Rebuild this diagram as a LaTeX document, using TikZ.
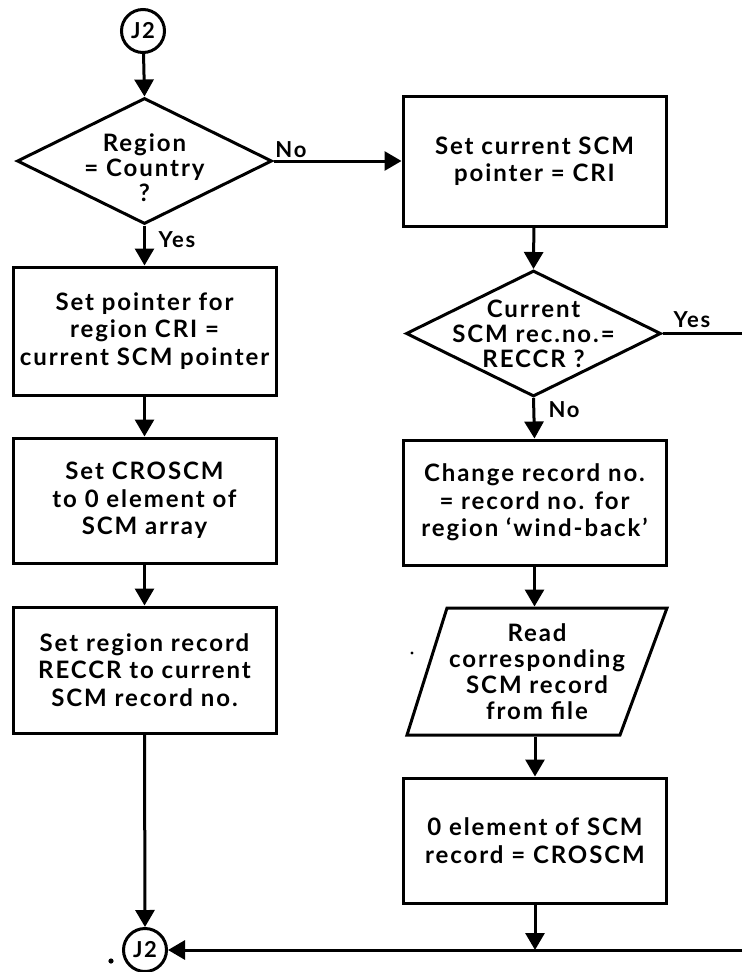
\documentclass[tikz,border=0pt]{standalone}
\usepackage{fontspec}
\setmainfont{Lato}
\newfontfamily\plotfont{Lato}[LetterSpace=8]
\usetikzlibrary{arrows.meta,shapes.geometric}
\begin{document}
\begin{tikzpicture}[x=1pt,y=-1pt,
  line width=3pt,
  every node/.style={font=\plotfont\fontsize{24}{27.5}\selectfont\bfseries},
  box/.style={draw, rectangle, minimum width=263pt, align=center, inner sep=0pt},
  dia/.style={draw, diamond, inner sep=0pt, minimum width=255pt, minimum height=126pt},
  conn/.style={draw, circle, inner sep=0pt, minimum size=43pt, font=\plotfont\fontsize{22}{22}\selectfont\bfseries},
  txt/.style={align=center, inner sep=0pt, font=\plotfont\fontsize{24}{25}\selectfont\bfseries},
  tag/.style={inner sep=0pt, font=\plotfont\fontsize{22}{22}\selectfont\bfseries},
  flow/.style={-{Triangle[length=17pt,width=19pt]}},
  spot/.style={fill=black, draw=none}
]
\useasboundingbox (0,0) rectangle (742,972);

% left column
\node[conn] (j2a) at (143,31) {J2};
\node[dia] (d1) at (144.5,161) {};
\node[txt] (d1t) at (144.5,168) {Region\\= Country\\?};
\node[box, minimum height=128pt] (l1) at (144.5,331) {Set pointer for\\region CRI =\\current SCM pointer};
\node[box, minimum height=125pt] (l2) at (144.5,500.5) {Set CROSCM\\to 0 element of\\SCM array};
\node[box, minimum height=126pt] (l3) at (144.5,670) {Set region record\\RECCR to current\\SCM record no.};
\node[conn] (j2b) at (145,950) {J2};
\fill[spot] (111,961) circle (2.6pt);

% right column
\node[box, minimum height=130pt] (r1) at (534.5,161) {Set current SCM\\pointer = CRI};
\node[dia] (d2) at (533.5,333.5) {};
\node[txt] (d2t) at (533.5,334) {Current\\SCM rec.no.=\\RECCR ?};
\node[box, minimum height=125pt] (r2) at (534.5,502.5) {Change record no.\\= record no. for\\region ‘wind-back’};
\node[minimum width=220pt, minimum height=127pt, inner sep=0pt] (rd) at (537,671.5) {};
\draw (447,608) -- (667,608) -- (620,735) -- (407,735) -- cycle;
\node[txt, font=\plotfont\fontsize{24}{26}\selectfont\bfseries] (rdt) at (rd) {Read\\corresponding\\SCM record\\from file};
\fill[spot] (412,653) circle (1.6pt);
\node[box, minimum height=125pt] (r3) at (535,840.5) {0 element of SCM\\record = CROSCM};

% free ends of the open connectors
\coordinate (yesend) at (742,333.5);
\coordinate (edge) at (742,950);
\coordinate (join) at (r3.south |- j2b);

% connectors
\draw[flow] (j2a) -- (d1.north);
\draw[flow] (d1.east) -- (r1.west);
\draw[flow] (d1.south) -- (l1.north);
\draw[flow] (l1) -- (l2);
\draw[flow] (l2) -- (l3);
\draw[flow] (l3.south) -- (j2b.north);
\draw[flow] (r1) -- (d2.north);
\draw (d2.east) -- (yesend);
\draw[flow] (d2.south) -- (r2.north);
\draw[flow] (r2.south) -- (rd.north -| r2.south);
\draw[flow] (rd.south -| r3.north) -- (r3.north);
\draw[flow] (r3.south) -- (join);
\draw[flow] (edge) -- (j2b.east);

% branch labels
\node[tag] at (291,150) {No};
\node[tag] at (177,240) {Yes};
\node[tag] at (692,320) {Yes};
\node[tag] at (564,410) {No};
\end{tikzpicture}
\end{document}
